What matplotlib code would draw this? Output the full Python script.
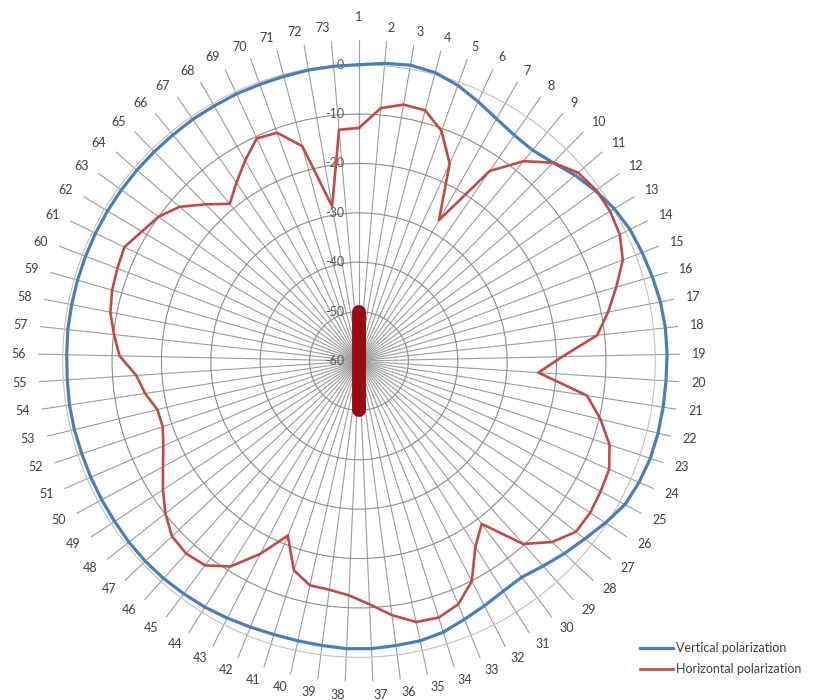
import numpy as np
import matplotlib
matplotlib.use('Agg')
import matplotlib.pyplot as plt
from matplotlib import transforms

plt.rcParams['font.family'] = ['Lato', 'DejaVu Sans']

# 73 measurement directions, 1..73 clockwise from the top
categories = list(range(1, 74))

vertical = [0.0, 0.5, 0.8, 0.4, -0.7, -2.2, -3.6, -4.5, -4.7, -3.8,
            -2.3, -1.0, 0.2, 1.0, 1.4, 1.8, 2.2, 2.4, 2.4, 2.3,
            2.3, 2.3, 2.2, 1.8, 1.2, -0.3, -1.8, -3.0, -4.2, -5.2,
            -5.0, -4.3, -3.5, -2.5, -2.0, -1.9, -1.7, -1.7, -1.9, -2.0,
            -2.0, -1.8, -1.5, -1.2, -1.0, -0.8, -0.7, -0.7, -0.8, -0.8,
            -0.8, -0.8, -0.7, -0.7, -0.8, -0.8, -0.7, -0.7, -0.7, -0.7,
            -0.7, -0.7, -0.7, -0.7, -0.7, -0.7, -0.6, -0.6, -0.5, -0.5,
            -0.4, -0.2, -0.1]

horizontal = [-12.8, -8.6, -7.3, -7.5, -10.5, -16.0, -27.2, -13.3, -7.6, -3.8,
              -1.5, -0.8, -0.8, -1.3, -2.8, -5.8, -8.6, -11.5, -18.8, -23.6,
              -13.3, -9.7, -6.5, -4.8, -4.4, -4.0, -4.1, -6.4, -10.2, -18.7,
              -15.6, -9.9, -6.8, -5.6, -5.9, -8.1, -10.7, -12.5, -13.3, -13.5,
              -15.6, -21.8, -16.1, -10.9, -8.2, -7.6, -8.1, -10.1, -12.5, -14.9,
              -16.8, -18.1, -18.0, -16.2, -14.8, -11.5, -10.1, -8.7, -8.0, -7.6,
              -7.2, -8.8, -10.0, -12.1, -15.6, -18.8, -16.2, -13.3, -10.4, -10.9,
              -15.0, -28.2, -13.0]

# the thick dark bar through the centre (top spoke, centre, bottom)
bar_angle_deg = [0, 0, 180]
bar_values = [-50, -60, -50]

r_ticks = [-60, -50, -40, -30, -20, -10, 0]
r_min, r_max = -60, 5

n = len(categories)
theta = np.deg2rad(np.arange(n) * 360.0 / n)
theta_c = np.append(theta, theta[0])

fig = plt.figure(figsize=(8.19, 7.0), dpi=100)
ax = fig.add_axes([38 / 819, 18 / 700, 642 / 819, 642 / 700], projection='polar')
ax.set_theta_zero_location('N')
ax.set_theta_direction(-1)
ax.set_ylim(r_min, r_max)
ax.spines['polar'].set_visible(False)

ax.set_xticks(theta)
ax.set_xticklabels([])
ax.set_yticks(r_ticks[1:])
ax.set_yticklabels([])
ax.tick_params(length=0)
ax.xaxis.grid(True, color='#9c9c9c', lw=0.8)
ax.yaxis.grid(True, color='#8c8c8c', lw=0.8)
ax.get_ygridlines()[-1].set_color('#cbbfb2')

ax.plot(theta_c, np.append(vertical, vertical[0]), color='#4a7ebb', lw=2.3,
        label='Vertical polarization', zorder=3)
ax.plot(theta_c, np.append(horizontal, horizontal[0]), color='#be4b48', lw=1.9,
        label='Horizontal polarization', zorder=3)
ax.plot(np.deg2rad(bar_angle_deg), bar_values, color='#9b0a14', lw=10,
        solid_capstyle='round', zorder=4)

# value labels left of the vertical axis
off = transforms.offset_copy(ax.transData, fig=fig, x=-15, y=0, units='dots')
for v in r_ticks:
    ax.text(0, v, str(v), transform=off, ha='right', va='center',
            fontsize=9, color='#595959', zorder=2)

# category labels just outside the spoke ends, Excel style
for t, c in zip(theta, categories):
    s, co = np.sin(t), np.cos(t)
    if abs(s) < 0.02:
        ha = 'center'
    else:
        ha = 'left' if s > 0 else 'right'
    dy = 13 * co
    if ha == 'center' and co > 0:
        dy = 23
    ax.annotate(str(c), xy=(t, r_max), xytext=(12 * s, dy),
                textcoords='offset pixels', ha=ha, va='center', fontsize=9,
                color='#404040', annotation_clip=False)

fig.legend(loc='upper left', bbox_to_anchor=(640 / 819, 1 - 642 / 700),
           frameon=False, fontsize=9, handlelength=2.6, handletextpad=0.3,
           labelspacing=0.75, borderpad=0, borderaxespad=0, labelcolor='#404040')

fig.savefig('out.png', dpi=100)
